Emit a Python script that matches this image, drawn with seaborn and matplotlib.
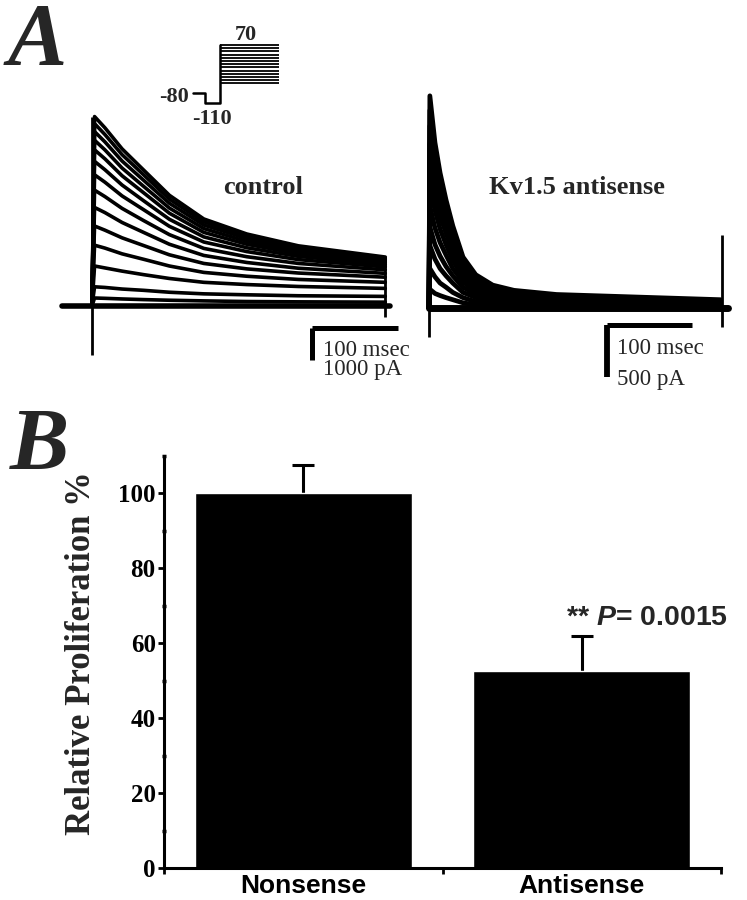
import numpy as np
import pandas as pd
import matplotlib
matplotlib.use('Agg')
import matplotlib.pyplot as plt
import seaborn as sns

# ---------------- data ----------------
# panel B: proliferation
groups = ['Nonsense', 'Antisense']
prolif = [100.0, 52.5]
prolif_err = [7.5, 9.5]
y_ticks = [0, 20, 40, 60, 80, 100]

# panel A: control currents (nA) sampled at ctrl_t (ms)
ctrl_t = [0, 3, 15, 35, 60, 90, 130, 180, 240, 341]
ctrl_nA = [
    [0, 5.92, 5.57, 4.91, 4.25, 3.46, 2.72, 2.25, 1.88, 1.53],
    [0, 5.70, 5.36, 4.73, 4.10, 3.34, 2.63, 2.18, 1.83, 1.49],
    [0, 5.45, 5.13, 4.53, 3.93, 3.21, 2.53, 2.11, 1.77, 1.45],
    [0, 5.18, 4.88, 4.31, 3.74, 3.06, 2.42, 2.02, 1.70, 1.40],
    [0, 4.88, 4.60, 4.07, 3.54, 2.90, 2.30, 1.93, 1.63, 1.35],
    [0, 4.52, 4.26, 3.78, 3.29, 2.71, 2.16, 1.82, 1.55, 1.29],
    [0, 4.10, 3.87, 3.44, 3.01, 2.49, 2.00, 1.70, 1.45, 1.22],
    [0, 3.62, 3.42, 3.05, 2.67, 2.23, 1.80, 1.54, 1.33, 1.13],
    [0, 3.08, 2.92, 2.61, 2.30, 1.93, 1.58, 1.36, 1.18, 1.02],
    [0, 2.50, 2.37, 2.13, 1.89, 1.60, 1.33, 1.16, 1.03, 0.90],
    [0, 1.90, 1.81, 1.63, 1.46, 1.25, 1.05, 0.93, 0.83, 0.74],
    [0, 1.25, 1.19, 1.09, 0.98, 0.86, 0.74, 0.67, 0.61, 0.55],
    [0, 0.60, 0.58, 0.53, 0.49, 0.43, 0.38, 0.35, 0.32, 0.30],
    [0, 0.25, 0.24, 0.22, 0.20, 0.18, 0.16, 0.14, 0.13, 0.12],
]
ctrl_base_t = [-35, 346]
ctrl_cap = [-1.53, 5.92]      # capacitive artefact at step onset
ctrl_end = [-0.35, 1.53]      # artefact at step end

# panel A: Kv1.5 antisense currents (nA)
as_t = [0, 1, 7, 13, 20, 28, 40, 55, 75, 100, 150, 343]
as_nA = [
    [0, 2.04, 1.59, 1.30, 1.04, 0.79, 0.49, 0.32, 0.22, 0.17, 0.13, 0.08],
    [0, 1.90, 1.48, 1.20, 0.97, 0.73, 0.45, 0.29, 0.20, 0.15, 0.12, 0.07],
    [0, 1.75, 1.36, 1.11, 0.89, 0.67, 0.42, 0.27, 0.19, 0.15, 0.11, 0.07],
    [0, 1.58, 1.23, 1.00, 0.80, 0.61, 0.38, 0.24, 0.17, 0.13, 0.10, 0.06],
    [0, 1.40, 1.09, 0.89, 0.72, 0.54, 0.34, 0.22, 0.15, 0.12, 0.09, 0.06],
    [0, 1.20, 0.94, 0.76, 0.61, 0.46, 0.29, 0.19, 0.13, 0.10, 0.08, 0.05],
    [0, 0.98, 0.77, 0.63, 0.51, 0.38, 0.25, 0.16, 0.12, 0.09, 0.07, 0.05],
    [0, 0.78, 0.61, 0.50, 0.40, 0.31, 0.20, 0.13, 0.09, 0.07, 0.06, 0.04],
    [0, 0.60, 0.47, 0.38, 0.31, 0.24, 0.15, 0.10, 0.07, 0.06, 0.04, 0.03],
    [0, 0.38, 0.30, 0.24, 0.20, 0.15, 0.10, 0.06, 0.04, 0.03, 0.025, 0.02],
    [0, 0.18, 0.14, 0.12, 0.10, 0.08, 0.05, 0.03, 0.02, 0.015, 0.012, 0.01],
]
as_base_t = [0, 352]
as_cap = [-0.28, 2.04]
as_end = [-0.18, 0.70]

# voltage protocol (mV)
hold_t = [-27, -15, -15, 0, 0]
hold_v = [-80, -80, -110, -110, 70]
step_v = [-50, -40, -30, -20, -10, 0, 10, 20, 30, 40, 50, 60, 70]
step_t = [0, 59]

# scale bars: (ms, nA)
ctrl_bar = (100, 1.0)
as_bar = (100, 0.5)


def long_df(t, traces):
    rows = [(k, tt, v) for k, tr in enumerate(traces) for tt, v in zip(t, tr)]
    return pd.DataFrame(rows, columns=['trace', 't', 'I'])


sns.set_theme(style='white')
plt.rcParams['font.family'] = ['Liberation Serif', 'DejaVu Serif']
plt.rcParams['mathtext.fontset'] = 'custom'
plt.rcParams['mathtext.it'] = 'Liberation Sans:italic:bold'
plt.rcParams['mathtext.rm'] = 'Liberation Sans:bold'

W, H = 747, 900
fig = plt.figure(figsize=(W / 100, H / 100), dpi=100)
fig.patch.set_facecolor('white')


def px_axes(x0, y0, x1, y1):
    return fig.add_axes([x0 / W, 1 - y1 / H, (x1 - x0) / W, (y1 - y0) / H])


# ---- control traces ----
axc = px_axes(50, 100, 400, 380)
sns.lineplot(data=long_df(ctrl_t, ctrl_nA), x='t', y='I', units='trace',
             estimator=None, sort=False, color='black', lw=2.6, ax=axc)
axc.plot(ctrl_base_t, [0, 0], color='black', lw=4.0, solid_capstyle='round')
axc.vlines(0, *ctrl_cap, color='black', lw=2.0)
axc.vlines(ctrl_t[-1], *ctrl_end, color='black', lw=2.0)
# scale bar
bx, by = 256, -0.69
axc.plot([bx, bx + ctrl_bar[0]], [by, by], color='black', lw=3.6, solid_capstyle='butt')
axc.plot([bx, bx], [by, by - ctrl_bar[1]], color='black', lw=3.6, solid_capstyle='butt')
axc.set_xlim(-48.8, 358.1)
axc.set_ylim(-2.3125, 6.4375)
axc.axis('off')

# ---- antisense traces ----
axa = px_axes(390, 80, 740, 390)
sns.lineplot(data=long_df(as_t, as_nA), x='t', y='I', units='trace',
             estimator=None, sort=False, color='black', lw=3.4, ax=axa)
axa.plot(as_base_t, [0, 0], color='black', lw=5.0, solid_capstyle='round')
axa.vlines(0, *as_cap, color='black', lw=2.0)
axa.vlines(345, *as_end, color='black', lw=2.0)
bx, by = 209, -0.163
axa.plot([bx, bx + as_bar[0]], [by, by], color='black', lw=3.6, solid_capstyle='butt')
axa.plot([bx, bx], [by, by - as_bar[1]], color='black', lw=4.2, solid_capstyle='butt')
axa.set_xlim(-45.9, 365.9)
axa.set_ylim(-0.788, 2.192)
axa.axis('off')

# ---- voltage protocol ----
axp = px_axes(150, 20, 290, 130)
axp.plot(hold_t, hold_v, color='black', lw=1.8)
axp.hlines(step_v, step_t[0], step_t[1], color='black', lw=1.3)
axp.text(-31, -93, '-80', ha='right', va='center', fontsize=16, fontweight='bold')
axp.text(-8, -160, '-110', ha='center', va='center', fontsize=16, fontweight='bold')
axp.text(26, 100, '70', ha='center', va='center', fontsize=16, fontweight='bold')
axp.set_xlim(-70, 70)
axp.set_ylim(-195.6, 148)
axp.axis('off')

# panel A labels
fig.text(263 / W, 1 - 187 / H, 'control', ha='center', va='center',
         fontsize=19, fontweight='bold')
fig.text(577 / W, 1 - 187 / H, 'Kv1.5 antisense', ha='center', va='center',
         fontsize=19, fontweight='bold')
fig.text(323 / W, 1 - 350 / H, '100 msec', ha='left', va='center', fontsize=16.5)
fig.text(323 / W, 1 - 370 / H, '1000 pA', ha='left', va='center', fontsize=16.5)
fig.text(617 / W, 1 - 349 / H, '100 msec', ha='left', va='center', fontsize=16.5)
fig.text(617 / W, 1 - 380 / H, '500 pA', ha='left', va='center', fontsize=16.5)

fig.text(8 / W, 1 - 64 / H, 'A', ha='left', va='baseline', fontsize=64,
         fontweight='bold', fontstyle='italic')
fig.text(10 / W, 1 - 469 / H, 'B', ha='left', va='baseline', fontsize=64,
         fontweight='bold', fontstyle='italic')

# ---- panel B bar chart ----
axb = px_axes(164, 456, 721, 868)
# error bars sit behind the bars so only the upper half shows
axb.errorbar([0, 1], prolif, yerr=prolif_err, fmt='none', zorder=0.5,
             ecolor='black', elinewidth=2.2, capsize=8, capthick=2.2)
sns.barplot(x=groups, y=prolif, color='black', saturation=1, width=0.78,
            errorbar=None, ax=axb, zorder=2)
axb.set_xlim(-0.5, 1.5)
axb.set_ylim(0, 110)
sns.despine(ax=axb)
for s in ['left', 'bottom']:
    axb.spines[s].set_color('black')
    axb.spines[s].set_linewidth(2.2)

axb.set_yticks(y_ticks)
axb.set_yticklabels([str(v) for v in y_ticks], fontsize=18, fontweight='bold')
axb.set_yticks(np.arange(10, 111, 20), minor=True)
axb.tick_params(axis='y', which='major', left=True, direction='out',
                length=4, width=2, pad=2, colors='black')
axb.tick_params(axis='y', which='minor', left=True, direction='inout',
                length=3.5, width=2.5, colors='black')

axb.set_xticks([0, 1])
axb.set_xticklabels(groups, fontsize=19, fontweight='bold',
                    family=['Liberation Sans', 'DejaVu Sans'])
axb.set_xticks([-0.5, 0.5, 1.5], minor=True)
axb.tick_params(axis='x', which='major', bottom=True, length=0, pad=4, colors='black')
axb.tick_params(axis='x', which='minor', bottom=True, direction='out',
                length=4, width=2, colors='black')

axb.set_ylabel('Relative Proliferation %', fontsize=25, fontweight='bold')
axb.yaxis.set_label_coords(-0.118, 0.522)
axb.set_xlabel('')

axb.text(0.943, 66.7, r'** $P$= 0.0015', ha='left', va='center', fontsize=20.5,
         fontweight='bold', family='Liberation Sans')

fig.savefig('out.png', dpi=100, facecolor='white')
